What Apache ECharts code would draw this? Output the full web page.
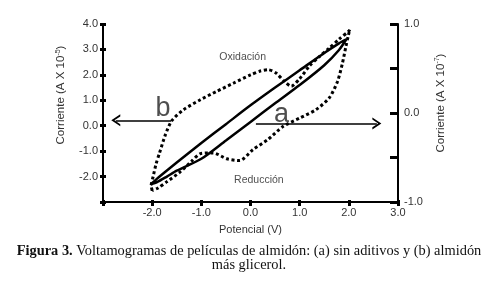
<!DOCTYPE html>
<html>
<head>
<meta charset="utf-8">
<script src="https://cdn.jsdelivr.net/npm/echarts@6/dist/echarts.min.js"></script>
<style>
  html, body { margin: 0; padding: 0; background: #fff; }
  #chart { width: 498px; height: 283px; }
</style>
</head>
<body>
<div id="chart"></div>
<script>
// (a) almidón sin aditivos: ida (oxidación) y vuelta (reducción)
const potA = [-2.03, -1.9, -1.7, -1.5, -1.0, -0.5, 0.0, 0.5, 1.0, 1.5, 1.8, 1.95,
              1.8, 1.5, 1.0, 0.5, 0.0, -0.5, -1.0, -1.5, -1.7, -1.9, -2.03];
const curA = [-2.31, -2.08, -1.76, -1.45, -0.68, 0.06, 0.80, 1.50, 2.18, 2.86, 3.24, 3.40,
              2.98, 2.38, 1.60, 0.88, 0.15, -0.58, -1.30, -1.77, -2.00, -2.22, -2.31];

// (b) almidón más glicerol
const potB = [-2.0, -2.02, -1.98, -1.92, -1.85, -1.73, -1.6, -1.36, -1.02, -0.69, -0.35, 0.0,
              0.2, 0.36, 0.52, 0.69, 0.83, 1.0, 1.2, 1.4, 1.6, 1.8, 2.0, 2.02,
              1.99, 1.94, 1.87, 1.77, 1.6, 1.33, 1.0, 0.66, 0.35, 0.05, -0.22, -0.48,
              -0.76, -1.02, -1.2, -1.45, -1.7, -1.88, -2.0];
const curB = [-2.55, -2.35, -2.0, -1.5, -1.07, -0.35, 0.2, 0.63, 1.02, 1.35, 1.67, 2.0,
              2.15, 2.2, 2.07, 1.74, 1.55, 1.85, 2.35, 2.72, 3.05, 3.4, 3.72, 3.78,
              3.55, 3.11, 2.46, 1.74, 1.09, 0.63, 0.3, -0.03, -0.55, -0.94, -1.37, -1.3,
              -1.07, -1.1, -1.4, -1.85, -2.2, -2.45, -2.55];

// anotaciones (en coordenadas de datos)
const noteText = ['Oxidación', 'Reducción', 'a', 'b'];
const noteX = [-0.16, 0.17, 0.63, -1.78];
const noteY = [2.7, -2.13, 0.42, 0.66];

// flechas: b apunta a la izquierda, a a la derecha
const arrowFromX = [-1.61, 0.11];
const arrowToX = [-2.74, 2.57];
const arrowY = [0.21, 0.09];

const FONT = '"Liberation Sans", Arial, sans-serif';
const SERIF = '"Liberation Serif", "Times New Roman", serif';
const chevron = 'path://M0,20 L10,0 L20,20 L16.5,20 L10,7 L3.5,20 Z';

const zip = (xs, ys) => xs.map((x, i) => [x, ys[i]]);

const chart = echarts.init(document.getElementById('chart'));

const axisLabelStyle = { fontFamily: FONT, fontSize: 11, color: '#333' };
const nameStyle = {
  fontFamily: FONT, fontSize: 11.5, color: '#333', lineHeight: 14,
  rich: {
    t: { fontFamily: FONT, fontSize: 11.5, color: '#333', lineHeight: 14 },
    sup: { fontFamily: FONT, fontSize: 7, color: '#333', lineHeight: 8, verticalAlign: 'top' }
  }
};
const blackLine = { show: true, onZero: false, lineStyle: { color: '#000', width: 2 } };

const option = {
  animation: false,
  backgroundColor: '#fff',
  title: {
    text: '{b|Figura 3.}{n| Voltamogramas de películas de almidón: (a) sin aditivos y (b) almidón}\n{n|más glicerol.}',
    left: 'center',
    top: 244,
    padding: 0,
    textStyle: {
      fontWeight: 'normal',
      rich: {
        b: { fontFamily: SERIF, fontSize: 14.4, fontWeight: 'bold', color: '#111', lineHeight: 14 },
        n: { fontFamily: SERIF, fontSize: 14.4, fontWeight: 'normal', color: '#111', lineHeight: 14 }
      }
    }
  },
  grid: { left: 103, right: 100, top: 24, bottom: 81 },
  xAxis: [
    {
      type: 'value', min: -3, max: 3, interval: 1,
      axisLine: blackLine,
      axisTick: { length: 4, lineStyle: { color: '#000', width: 3 } },
      axisLabel: Object.assign({ margin: 5, formatter: v => v === -3 ? '' : v.toFixed(1) }, axisLabelStyle),
      splitLine: { show: false },
      name: 'Potencial (V)', nameLocation: 'middle', nameGap: 22,
      nameTextStyle: { fontFamily: FONT, fontSize: 11, color: '#333' }
    },
    {
      type: 'value', min: -3, max: 3, interval: 1, position: 'bottom',
      axisLine: { show: false, onZero: false },
      axisTick: { inside: true, length: 2, lineStyle: { color: '#000', width: 3 } },
      axisLabel: { show: false }, splitLine: { show: false }
    }
  ],
  yAxis: [
    {
      type: 'value', min: -3, max: 4, interval: 1, position: 'left',
      axisLine: blackLine,
      axisTick: { show: true, length: 3, lineStyle: { color: '#000', width: 3 } },
      axisLabel: Object.assign({ margin: 5, formatter: v => v === -3 ? '' : v.toFixed(1) }, axisLabelStyle),
      splitLine: { show: false },
      name: '{t|Corriente (A X 10}{sup|-5}{t|)}', nameLocation: 'middle', nameRotate: 90, nameGap: 30,
      nameTextStyle: Object.assign({ padding: [0, 0, 0, 36] }, nameStyle)
    },
    {
      type: 'value', min: -1, max: 1, interval: 0.5, position: 'right',
      axisLine: blackLine,
      axisTick: { show: true, inside: true, length: 8, lineStyle: { color: '#000', width: 3 } },
      axisLabel: Object.assign({ margin: 6, formatter: v => Number.isInteger(v) ? v.toFixed(1) : '' }, axisLabelStyle),
      splitLine: { show: false },
      name: '{t|Corriente (A X 10}{sup|-7}{t|)}', nameLocation: 'middle', nameRotate: 90, nameGap: 30,
      nameTextStyle: Object.assign({ padding: [0, 0, 0, 20] }, nameStyle)
    },
    {
      type: 'value', min: -3, max: 4, interval: 1, position: 'left',
      axisLine: { show: false, onZero: false },
      axisTick: { show: true, inside: true, length: 3, lineStyle: { color: '#000', width: 3 } },
      axisLabel: { show: false }, splitLine: { show: false }
    }
  ],
  series: [
    {
      name: 'a', type: 'line', data: zip(potA, curA),
      smooth: 0.25, showSymbol: false, symbol: 'none',
      lineStyle: { color: '#000', width: 2.5 },
      markLine: {
        silent: true, animation: false,
        symbol: ['none', chevron], symbolSize: [12, 9],
        lineStyle: { color: '#000', width: 1.5, type: 'solid' },
        label: { show: false },
        data: arrowFromX.map((x, i) => [
          { coord: [x, arrowY[i]] },
          { coord: [arrowToX[i], arrowY[i]] }
        ])
      }
    },
    {
      name: 'b', type: 'line', data: zip(potB, curB),
      smooth: 0.25, showSymbol: false, symbol: 'none',
      lineStyle: { color: '#000', width: 3, type: [3, 2.6] }
    },
    {
      name: 'notas', type: 'scatter', symbolSize: 0, silent: true,
      data: noteText.map((t, i) => ({
        name: t, value: [noteX[i], noteY[i]],
        label: { fontSize: t.length === 1 ? 27 : 10.5 }
      })),
      label: { show: true, position: 'inside', formatter: '{b}', fontFamily: FONT, color: '#222' }
    }
  ]
};

chart.setOption(option);
window.addEventListener('resize', () => chart.resize());
</script>
</body>
</html>
